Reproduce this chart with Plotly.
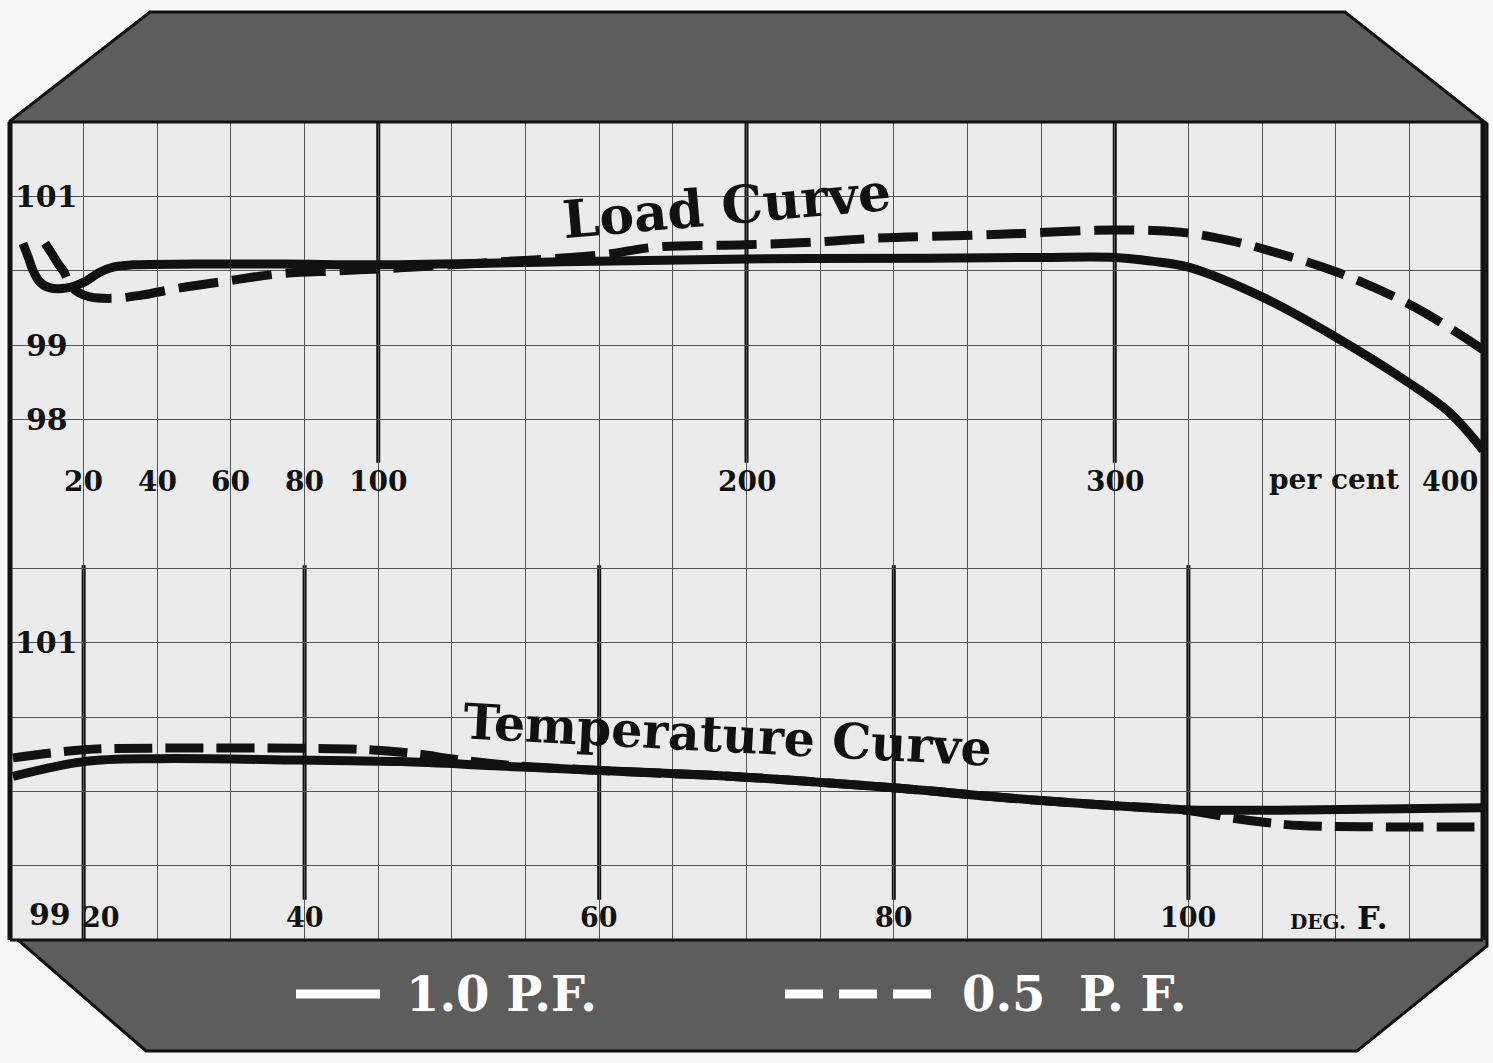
import plotly.graph_objects as go

# ---- Load curve: efficiency-style reading (per cent) against load (per cent)
load_pct_10pf = [3.5, 4.9, 6.2, 8.1, 10.9, 15.5, 19.8, 24.4, 28, 33.4, 50, 75, 100,
                 150, 200, 250, 280, 300, 310, 320, 340, 360, 380, 391, 400]
load_val_10pf = [100.37, 100.19, 100.01, 99.85, 99.77, 99.77, 99.84, 99.98, 100.05,
                 100.08, 100.09, 100.09, 100.08, 100.12, 100.16, 100.17, 100.18, 100.18,
                 100.13, 100.05, 99.65, 99.11, 98.49, 98.09, 97.59]

load_pct_05pf = [9.5, 11.5, 13.0, 14.7, 16.3, 18.2, 21.7, 28, 35.3, 46.2, 58.4, 73.3,
                 89.6, 105.9, 133, 160, 175.7, 199.6, 220, 236, 268.8, 300, 317.7, 331,
                 341.3, 361, 381.5, 400]
load_val_05pf = [100.37, 100.22, 100.10, 99.98, 99.82, 99.72, 99.65, 99.63, 99.67,
                 99.77, 99.86, 99.96, 100.00, 100.04, 100.12, 100.21, 100.32, 100.35,
                 100.39, 100.44, 100.49, 100.55, 100.52, 100.41, 100.28, 99.97, 99.51,
                 98.94]

# ---- Temperature curve: reading against room temperature (deg. F.)
temp_deg_10pf = [20.2, 25, 30, 39.7, 46.5, 53.3, 60.1, 69.1, 80.4, 87.2, 94.0, 100.1,
                 107.6, 120]
temp_val_10pf = [100.10, 100.20, 100.22, 100.21, 100.20, 100.17, 100.14, 100.10, 100.02,
                 99.96, 99.91, 99.875, 99.875, 99.89]

temp_deg_05pf = [20.2, 25, 29.5, 39.7, 44.4, 47.8, 49.9, 53.3, 60.1, 69.1, 80.4, 87.2,
                 94.0, 100.1, 103, 105.3, 107.6, 114.4, 120]
temp_val_05pf = [100.225, 100.28, 100.29, 100.29, 100.28, 100.25, 100.22, 100.18, 100.14,
                 100.10, 100.02, 99.96, 99.91, 99.87, 99.82, 99.79, 99.77, 99.76, 99.76]

# ---- Axis labels
load_x_ticks = [20, 40, 60, 80, 100, 200, 300]
load_x_labels = ["20", "40", "60", "80", "100", "200", "300"]
load_y_ticks = [101, 99, 98]
load_bold_x = [100, 200, 300]

temp_x_ticks = [25, 40, 60, 80, 100]
temp_x_labels = ["20", "40", "60", "80", "100"]
temp_y_ticks = [101, 99]

legend_labels = ["1.0 P.F.", "0.5  P. F."]

# ---- Page geometry (pixels)
W, H = 1493, 1063
ML, MR, MT, MB = 10, 10, 122, 123
PW, PH = W - ML - MR, H - MT - MB
SPLIT = (940 - 494) / PH          # boundary between the two panels


def px(x, y):
    """Pixel position on the page -> paper coordinates."""
    return (x - ML) / PW, (H - MB - y) / PH


SERIF = "DejaVu Serif"
INK = "#111111"
PAPER = "#ebebeb"
BAND = "#5d5d5d"
GRID = "#555555"

fig = go.Figure()

curve = dict(color=INK, width=9, shape="spline", smoothing=1.0)
fig.add_trace(go.Scatter(x=load_pct_10pf, y=load_val_10pf, mode="lines",
                         line=curve, xaxis="x", yaxis="y",
                         showlegend=False, hoverinfo="skip"))
fig.add_trace(go.Scatter(x=load_pct_05pf, y=load_val_05pf, mode="lines",
                         line=dict(curve, dash="40px,14px"), xaxis="x", yaxis="y",
                         showlegend=False, hoverinfo="skip"))
fig.add_trace(go.Scatter(x=temp_deg_10pf, y=temp_val_10pf, mode="lines",
                         line=curve, xaxis="x2", yaxis="y2",
                         showlegend=False, hoverinfo="skip"))
fig.add_trace(go.Scatter(x=temp_deg_05pf, y=temp_val_05pf, mode="lines",
                         line=dict(curve, dash="38px,13px"), xaxis="x2", yaxis="y2",
                         showlegend=False, hoverinfo="skip"))

shapes = []

# dark octagonal mount behind the chart
octagon = [(150, 12), (1345, 12), (1487, 124), (1487, 946), (1357, 1051),
           (146, 1051), (10, 933), (10, 121)]
path = "M " + " L ".join("%.5f,%.5f" % px(*p) for p in octagon) + " Z"
shapes.append(dict(type="path", xref="paper", yref="paper", path=path,
                   fillcolor=BAND, line=dict(color="#111111", width=3), layer="below"))

# ruled paper
x0, y0 = px(10, 940)
x1, y1 = px(1485, 122)
shapes.append(dict(type="rect", xref="paper", yref="paper", x0=x0, y0=y0, x1=x1, y1=y1,
                   fillcolor=PAPER, line=dict(width=0), layer="below"))

# heavy rulings for the load scale
for xv in load_bold_x:
    shapes.append(dict(type="line", xref="x", yref="y", x0=xv, x1=xv, y0=97.42, y1=102,
                       line=dict(color=INK, width=4), layer="below"))

# heavy rulings for the temperature scale
for i, xv in enumerate(temp_x_ticks):
    shapes.append(dict(type="line", xref="x2", yref="y2", x0=xv, x1=xv,
                       y0=99 if i == 0 else 99.27, y1=101.52,
                       line=dict(color=INK, width=4), layer="below"))

# frame
shapes += [
    dict(type="line", xref="paper", yref="paper", x0=0, x1=0, y0=0, y1=1,
         line=dict(color=INK, width=5)),
    dict(type="line", xref="paper", yref="paper", x0=1, x1=1, y0=0, y1=1,
         line=dict(color=INK, width=5)),
    dict(type="line", xref="paper", yref="paper", x0=0, x1=1, y0=1, y1=1,
         line=dict(color=INK, width=3)),
    dict(type="line", xref="paper", yref="paper", x0=0, x1=1, y0=0, y1=0,
         line=dict(color=INK, width=3)),
]

# legend keys in the lower band
lx0, ly = px(296, 994)
lx1, _ = px(380, 994)
shapes.append(dict(type="line", xref="paper", yref="paper", x0=lx0, x1=lx1, y0=ly, y1=ly,
                   line=dict(color="white", width=9)))
dx0, _ = px(785, 994)
dx1, _ = px(931, 994)
shapes.append(dict(type="line", xref="paper", yref="paper", x0=dx0, x1=dx1, y0=ly, y1=ly,
                   line=dict(color="white", width=9, dash="38px,16px")))

annotations = []


def label(text, x, y, xref, yref, size, **kw):
    annotations.append(dict(text=text, x=x, y=y, xref=xref, yref=yref, showarrow=False,
                            font=dict(family=SERIF, size=size, color=kw.pop("color", INK)),
                            xanchor=kw.pop("xanchor", "center"),
                            yanchor=kw.pop("yanchor", "middle"), **kw))


# load scale labels
for xv, t in zip(load_x_ticks, load_x_labels):
    label("<b>%s</b>" % t, xv, 97.17, "x", "y", 28)
label("<b>per cent</b>", 359.5, 97.19, "x", "y", 28)
label("<b>400</b>", 391.0, 97.17, "x", "y", 27)
for yv in load_y_ticks:
    label("<b>%d</b>" % yv, 10.0, yv, "x", "y", 30)

# temperature scale labels
for i, (xv, t) in enumerate(zip(temp_x_ticks, temp_x_labels)):
    label("<b>%s</b>" % t, xv, 99.15, "x2", "y2", 27,
          xshift=17 if i == 0 else 0)
label("<b><span style='font-size:20px'>DEG.</span> F.</b>", 110.2, 99.15, "x2", "y2", 32)
label("<b>101</b>", 22.5, temp_y_ticks[0], "x2", "y2", 30)
label("<b>99</b>", 22.7, 99.17, "x2", "y2", 30)

# curve titles
label("<b>Load Curve</b>", 194.7, 100.88, "x", "y", 52, textangle=-5)
label("<b>Temperature Curve</b>", 68.7, 100.38, "x2", "y2", 49, textangle=3)

# legend text
tx, ty = px(502, 994)
label("<b>%s</b>" % legend_labels[0], tx, ty, "paper", "paper", 48, color="white")
tx, _ = px(1074, 994)
label("<b>%s</b>" % legend_labels[1], tx, ty, "paper", "paper", 48, color="white")

axis_common = dict(showgrid=True, gridcolor=GRID, gridwidth=1.4, zeroline=False,
                   showline=False, ticks="", showticklabels=False, fixedrange=True)

fig.update_layout(
    width=W, height=H,
    margin=dict(l=ML, r=MR, t=MT, b=MB, pad=0),
    paper_bgcolor="#f7f7f7",
    plot_bgcolor="rgba(0,0,0,0)",
    showlegend=False,
    xaxis=dict(range=[0, 400], domain=[0, 1], anchor="y", dtick=20, tick0=0, **axis_common),
    yaxis=dict(range=[97, 102], domain=[SPLIT, 1], anchor="x", dtick=1, tick0=97,
               **axis_common),
    xaxis2=dict(range=[20, 120], domain=[0, 1], anchor="y2", dtick=5, tick0=20,
                **axis_common),
    yaxis2=dict(range=[99, 102], domain=[0, SPLIT], anchor="x2", dtick=0.5, tick0=99,
                **axis_common),
    shapes=shapes,
    annotations=annotations,
)

fig.write_html("out.html")
